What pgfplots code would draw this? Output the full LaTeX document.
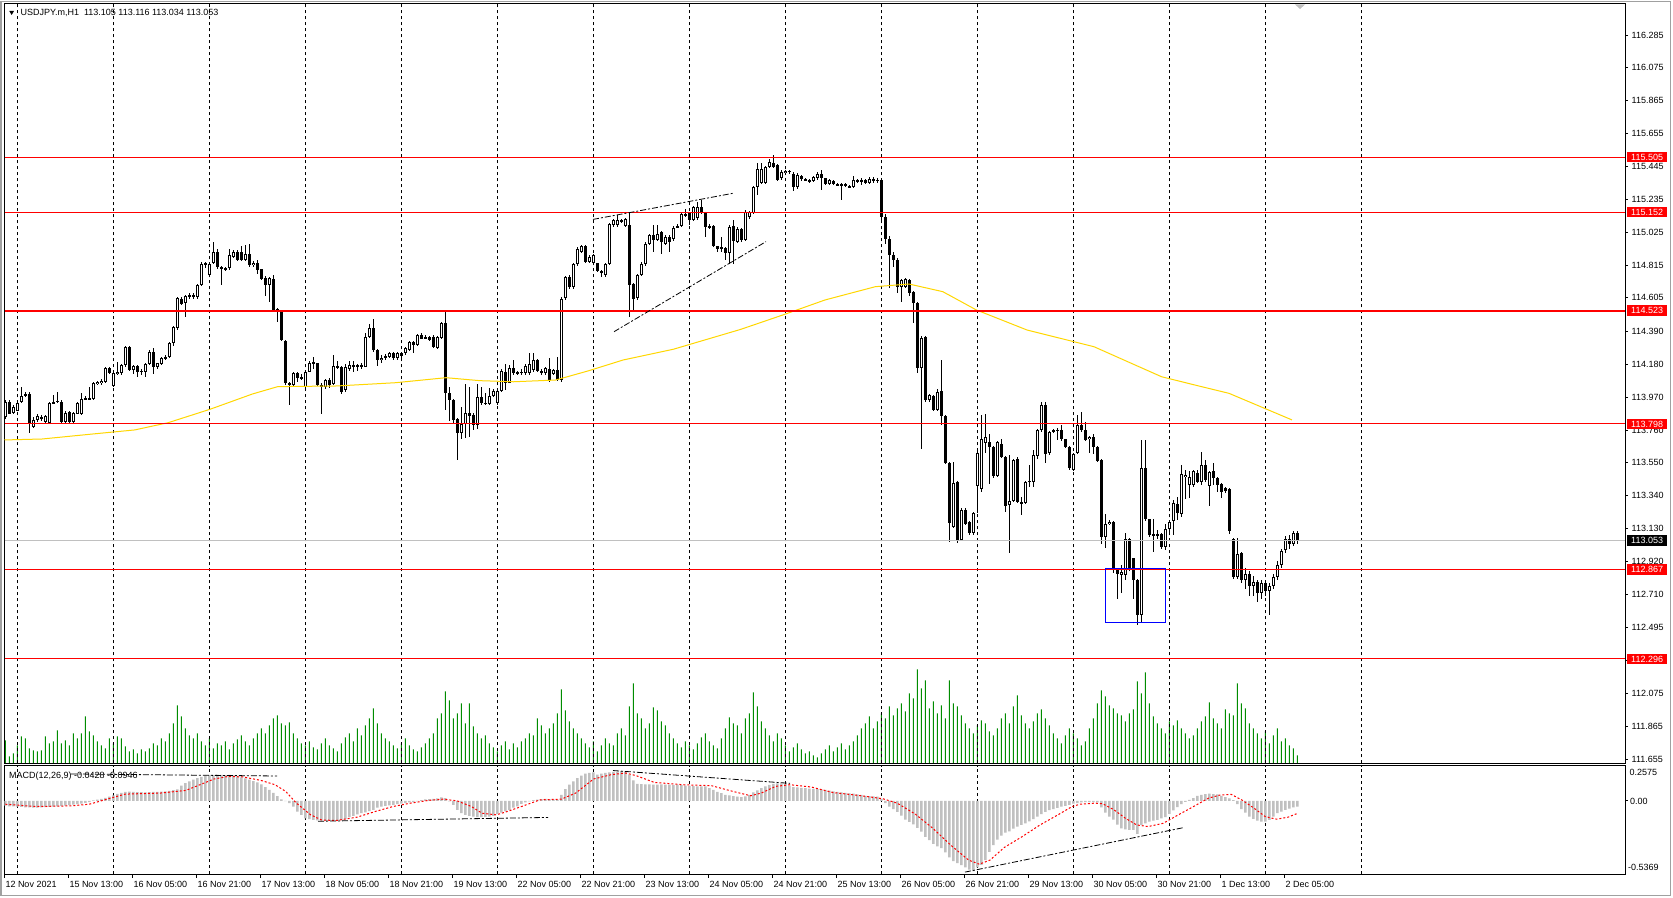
\documentclass[border=0pt]{standalone}
\usepackage{fontspec}
\setmainfont{Liberation Sans}
\usepackage{pgfplots}
\usepackage{pgfplotstable}
\pgfplotsset{compat=1.18}
\definecolor{mtred}{RGB}{255,0,0}
\definecolor{mtgold}{RGB}{255,215,0}
\definecolor{mtgreen}{RGB}{0,140,0}
\definecolor{mtsilver}{RGB}{192,192,192}
\definecolor{winframe}{RGB}{160,160,160}
\newcommand\mtf{\fontsize{9}{10}\selectfont}

% hourly bars: open close high low volume(px) macd
\pgfplotstableread{
o c h l v m
113.845 113.941 113.950 113.830 23 -0.035
113.940 113.866 113.950 113.860 7 -0.040
113.866 113.909 113.920 113.860 10 -0.040
113.883 113.934 113.940 113.880 18 -0.042
113.941 113.977 114.037 113.930 27 -0.045
113.985 113.990 114.000 113.970 25 -0.048
113.990 113.798 114.000 113.738 15 -0.049
113.781 113.828 113.840 113.770 13 -0.050
113.824 113.849 113.860 113.810 12 -0.050
113.845 113.830 113.855 113.820 13 -0.049
113.813 113.849 113.855 113.800 27 -0.046
113.807 113.934 113.940 113.800 20 -0.044
113.930 113.941 113.983 113.925 22 -0.042
113.940 113.945 114.000 113.930 33 -0.040
113.941 113.813 113.950 113.800 20 -0.038
113.813 113.870 113.880 113.800 23 -0.035
113.877 113.813 113.880 113.800 18 -0.032
113.813 113.870 113.875 113.800 30 -0.028
113.866 113.934 113.940 113.860 25 -0.024
113.860 113.962 113.998 113.855 30 -0.020
113.962 113.958 113.980 113.950 47 -0.015
113.958 113.960 114.037 113.950 32 -0.010
113.958 114.058 114.065 113.950 28 0.003
114.054 114.069 114.075 114.045 22 0.008
114.060 114.075 114.085 114.050 18 0.015
114.069 114.154 114.165 114.060 15 0.022
114.154 114.122 114.160 114.115 25 0.030
114.043 114.122 114.130 114.035 20 0.040
114.120 114.133 114.196 114.110 27 0.050
114.122 114.175 114.180 114.115 25 0.058
114.173 114.288 114.295 114.165 17 0.065
114.288 114.143 114.295 114.135 12 0.068
114.143 114.169 114.175 114.120 14 0.066
114.169 114.133 114.175 114.100 10 0.064
114.133 114.139 114.150 114.110 14 0.063
114.133 114.182 114.190 114.100 12 0.062
114.182 114.260 114.270 114.175 15 0.063
114.260 114.165 114.282 114.120 20 0.065
114.165 114.186 114.190 114.150 18 0.066
114.182 114.222 114.230 114.175 25 0.068
114.218 114.228 114.240 114.210 22 0.070
114.226 114.314 114.320 114.220 30 0.072
114.314 114.420 114.425 114.300 40 0.078
114.410 114.601 114.610 114.400 58 0.083
114.601 114.569 114.610 114.560 47 0.112
114.569 114.616 114.625 114.484 35 0.130
114.612 114.623 114.635 114.600 28 0.143
114.623 114.612 114.635 114.600 25 0.155
114.612 114.687 114.695 114.600 30 0.167
114.687 114.825 114.835 114.680 22 0.176
114.825 114.814 114.835 114.800 18 0.184
114.751 114.825 114.830 114.745 25 0.188
114.825 114.896 114.964 114.820 15 0.189
114.896 114.804 114.920 114.790 20 0.192
114.804 114.793 114.810 114.687 18 0.190
114.793 114.787 114.800 114.780 22 0.188
114.793 114.878 114.920 114.785 14 0.190
114.868 114.900 114.910 114.860 20 0.186
114.900 114.846 114.910 114.840 24 0.180
114.900 114.850 114.935 114.840 28 0.172
114.850 114.885 114.942 114.840 22 0.165
114.885 114.814 114.950 114.800 18 0.155
114.814 114.829 114.840 114.800 25 0.145
114.829 114.782 114.850 114.760 30 0.135
114.787 114.729 114.790 114.720 35 0.120
114.729 114.687 114.745 114.620 30 0.100
114.687 114.729 114.740 114.580 38 0.080
114.723 114.531 114.750 114.520 45 0.058
114.531 114.516 114.540 114.450 48 0.035
114.523 114.335 114.530 114.330 40 0.010
114.330 114.058 114.335 114.050 38 -0.002
114.058 114.047 114.065 113.919 41 -0.017
114.047 114.122 114.130 114.040 30 -0.042
114.122 114.090 114.130 114.070 25 -0.079
114.090 114.100 114.120 114.080 20 -0.103
114.037 114.133 114.140 114.020 18 -0.128
114.133 114.186 114.200 114.130 22 -0.135
114.186 114.190 114.228 114.150 16 -0.140
114.186 114.047 114.190 114.040 14 -0.144
114.047 114.037 114.060 113.866 20 -0.146
114.037 114.079 114.085 114.020 25 -0.147
114.080 114.047 114.090 114.030 18 -0.147
114.054 114.169 114.240 114.050 15 -0.146
114.169 114.162 114.200 114.150 12 -0.145
114.165 114.005 114.170 113.990 20 -0.142
114.015 114.165 114.180 114.000 26 -0.135
114.154 114.175 114.200 114.140 30 -0.120
114.175 114.162 114.200 114.130 22 -0.111
114.165 114.175 114.180 114.140 35 -0.100
114.170 114.169 114.190 114.150 28 -0.091
114.165 114.356 114.380 114.160 38 -0.085
114.356 114.410 114.437 114.350 45 -0.075
114.410 114.271 114.473 114.260 55 -0.066
114.271 114.207 114.280 114.170 40 -0.050
114.207 114.220 114.240 114.190 30 -0.042
114.220 114.232 114.245 114.210 25 -0.037
114.228 114.254 114.260 114.220 22 -0.033
114.250 114.218 114.260 114.210 18 -0.030
114.218 114.250 114.260 114.210 15 -0.025
114.250 114.230 114.260 114.220 20 -0.020
114.250 114.282 114.290 114.240 25 -0.015
114.271 114.324 114.330 114.265 18 -0.012
114.324 114.303 114.330 114.250 14 -0.010
114.303 114.367 114.375 114.300 12 -0.005
114.367 114.346 114.380 114.340 16 0.005
114.346 114.356 114.370 114.340 20 0.010
114.356 114.335 114.360 114.330 25 0.012
114.356 114.292 114.365 114.285 30 0.015
114.285 114.356 114.360 114.280 45 0.018
114.352 114.446 114.450 114.340 50 0.025
114.446 113.998 114.523 113.888 72 0.020
113.998 113.951 114.037 113.820 63 -0.005
113.951 113.824 113.960 113.800 45 -0.030
113.828 113.743 113.835 113.568 50 -0.066
113.743 113.798 113.909 113.706 60 -0.091
113.798 113.870 114.054 113.710 40 -0.103
113.866 113.849 114.037 113.717 60 -0.110
113.856 113.792 113.870 113.760 37 -0.116
113.792 113.973 114.054 113.770 30 -0.120
113.973 113.930 114.037 113.920 25 -0.120
113.930 113.934 113.994 113.920 28 -0.118
113.926 113.977 114.026 113.920 20 -0.116
113.977 114.011 114.020 113.970 16 -0.110
113.930 114.011 114.020 113.920 12 -0.096
114.011 114.139 114.150 114.000 18 -0.086
114.133 114.062 114.186 114.015 22 -0.075
114.062 114.154 114.175 114.058 14 -0.066
114.154 114.122 114.207 114.110 20 -0.050
114.122 114.126 114.140 114.110 16 -0.040
114.126 114.133 114.150 114.115 22 -0.022
114.122 114.169 114.180 114.115 25 -0.012
114.122 114.182 114.250 114.110 30 -0.005
114.143 114.207 114.254 114.130 28 0.005
114.207 114.139 114.215 114.130 45 0.008
114.139 114.126 114.150 114.115 38 0.012
114.122 114.154 114.165 114.115 30 0.015
114.147 114.079 114.224 114.070 35 0.012
114.122 114.143 114.150 114.110 40 0.010
114.143 114.079 114.228 114.075 50 0.008
114.079 114.601 114.610 114.070 74 0.044
114.601 114.736 114.745 114.590 53 0.086
114.736 114.672 114.750 114.660 42 0.118
114.672 114.821 114.830 114.665 35 0.142
114.821 114.921 114.930 114.810 30 0.167
114.900 114.936 114.945 114.890 25 0.184
114.936 114.836 114.945 114.830 20 0.199
114.836 114.868 114.880 114.830 16 0.204
114.829 114.878 114.885 114.820 22 0.209
114.825 114.778 114.830 114.770 12 0.192
114.778 114.765 114.785 114.736 18 0.199
114.751 114.821 114.830 114.740 25 0.204
114.821 115.077 115.085 114.815 20 0.209
115.070 115.102 115.110 115.060 18 0.212
115.070 115.102 115.134 115.060 30 0.214
115.102 115.092 115.110 115.085 35 0.217
115.064 115.106 115.115 115.060 28 0.214
115.070 114.687 115.151 114.484 57 0.192
114.697 114.601 114.700 114.523 80 0.150
114.601 114.751 114.760 114.590 50 0.125
114.751 114.821 114.836 114.745 45 0.122
114.821 114.953 114.960 114.810 35 0.120
114.953 115.006 115.015 114.945 40 0.120
115.006 114.974 115.070 114.900 56 0.118
114.974 115.013 115.070 114.970 53 0.118
115.028 114.964 115.035 114.889 42 0.120
114.953 114.996 115.005 114.945 38 0.118
114.996 114.964 115.005 114.900 30 0.118
114.979 115.055 115.065 114.970 25 0.116
115.055 115.064 115.075 115.050 20 0.118
115.064 115.145 115.155 115.060 16 0.115
115.145 115.128 115.177 115.120 22 0.112
115.149 115.106 115.155 115.070 18 0.110
115.102 115.187 115.195 115.095 14 0.108
115.113 115.187 115.219 115.105 20 0.106
115.187 115.149 115.234 115.140 26 0.105
115.149 115.055 115.155 114.991 30 0.106
115.055 115.064 115.075 115.045 22 0.093
115.064 114.936 115.070 114.930 18 0.081
114.936 114.915 114.940 114.900 15 0.066
114.921 114.932 114.996 114.900 25 0.056
114.921 114.889 114.930 114.846 35 0.044
114.889 115.055 115.070 114.821 46 0.040
115.064 114.970 115.106 114.825 40 0.035
114.964 115.049 115.060 114.955 38 0.030
115.049 114.974 115.055 114.965 30 0.027
114.974 115.155 115.165 114.965 45 0.032
115.119 115.155 115.160 115.110 50 0.044
115.145 115.315 115.320 115.140 71 0.061
115.315 115.432 115.469 115.262 57 0.076
115.337 115.432 115.469 115.330 42 0.093
115.337 115.443 115.450 115.330 35 0.106
115.443 115.475 115.490 115.435 28 0.116
115.469 115.443 115.518 115.435 22 0.125
115.454 115.362 115.460 115.355 30 0.128
115.369 115.411 115.420 115.360 25 0.127
115.405 115.418 115.425 115.400 18 0.125
115.418 115.411 115.425 115.400 12 0.111
115.400 115.315 115.410 115.290 16 0.100
115.315 115.390 115.400 115.298 20 0.098
115.383 115.362 115.390 115.355 14 0.095
115.362 115.358 115.370 115.350 10 0.093
115.358 115.347 115.365 115.340 12 0.090
115.354 115.379 115.385 115.345 8 0.088
115.369 115.400 115.410 115.360 6 0.085
115.396 115.369 115.426 115.298 10 0.083
115.369 115.332 115.375 115.325 14 0.081
115.332 115.358 115.365 115.325 18 0.075
115.354 115.332 115.360 115.325 12 0.070
115.332 115.326 115.340 115.320 16 0.066
115.332 115.320 115.340 115.230 20 0.062
115.320 115.332 115.340 115.315 14 0.058
115.320 115.311 115.325 115.305 18 0.055
115.311 115.358 115.383 115.305 22 0.052
115.358 115.347 115.365 115.340 28 0.048
115.347 115.358 115.370 115.330 35 0.044
115.358 115.340 115.365 115.330 40 0.037
115.340 115.365 115.375 115.335 47 0.035
115.365 115.350 115.380 115.340 35 0.032
115.350 115.360 115.370 115.340 42 0.030
115.360 115.120 115.370 115.100 50 0.015
115.120 114.980 115.140 114.950 45 -0.017
114.980 114.880 115.000 114.665 57 -0.042
114.880 114.846 114.900 114.800 48 -0.061
114.846 114.676 114.860 114.633 55 -0.081
114.676 114.719 114.725 114.580 60 -0.108
114.676 114.723 114.730 114.670 52 -0.138
114.719 114.633 114.725 114.620 70 -0.155
114.644 114.569 114.650 114.442 65 -0.172
114.574 114.154 114.580 114.122 94 -0.199
114.154 114.352 114.360 113.642 75 -0.226
114.352 113.951 114.360 113.940 83 -0.265
113.951 113.983 113.990 113.940 55 -0.288
113.977 113.888 113.985 113.880 62 -0.315
113.888 114.005 114.020 113.880 50 -0.334
114.009 113.849 114.207 113.792 58 -0.347
113.849 113.551 113.855 113.545 45 -0.379
113.551 113.163 113.557 113.046 83 -0.415
113.142 113.423 113.557 113.135 60 -0.442
113.429 113.057 113.435 113.039 57 -0.457
113.057 113.252 113.260 113.050 48 -0.472
113.252 113.163 113.260 113.155 40 -0.489
113.174 113.099 113.180 113.090 35 -0.505
113.099 113.227 113.235 113.090 30 -0.515
113.402 113.611 113.642 113.227 38 -0.489
113.387 113.706 113.855 113.365 43 -0.470
113.679 113.713 113.866 113.611 40 -0.435
113.685 113.653 113.738 113.419 32 -0.374
113.653 113.466 113.660 113.455 28 -0.325
113.466 113.685 113.690 113.460 35 -0.285
113.674 113.589 113.700 113.580 45 -0.256
113.589 113.274 113.595 113.238 50 -0.234
113.280 113.308 113.600 112.975 40 -0.224
113.308 113.568 113.575 113.300 57 -0.204
113.578 113.301 113.585 113.295 68 -0.189
113.301 113.291 113.330 113.216 48 -0.177
113.291 113.429 113.435 113.285 40 -0.165
113.429 113.436 113.536 113.397 35 -0.150
113.429 113.600 113.632 113.397 42 -0.135
113.593 113.760 113.770 113.578 50 -0.116
113.760 113.919 113.941 113.750 54 -0.098
113.919 113.610 113.941 113.547 45 -0.081
113.610 113.749 113.755 113.600 38 -0.069
113.749 113.760 113.770 113.740 30 -0.061
113.760 113.758 113.770 113.696 25 -0.052
113.760 113.700 113.792 113.690 20 -0.042
113.700 113.653 113.705 113.645 28 -0.037
113.653 113.515 113.660 113.505 35 -0.030
113.504 113.610 113.615 113.500 30 -0.020
113.610 113.792 113.856 113.605 25 -0.017
113.792 113.760 113.877 113.750 18 -0.012
113.760 113.696 113.813 113.690 22 -0.010
113.700 113.717 113.725 113.615 35 -0.010
113.713 113.653 113.738 113.610 45 -0.010
113.653 113.564 113.660 113.555 60 -0.012
113.568 113.073 113.575 113.031 73 -0.049
113.078 113.159 113.223 113.003 67 -0.086
113.159 113.174 113.184 113.150 58 -0.116
113.174 112.875 113.180 112.843 55 -0.138
112.875 112.839 112.880 112.677 50 -0.175
112.833 112.854 112.897 112.716 48 -0.202
112.833 113.061 113.103 112.801 42 -0.209
113.061 112.865 113.070 112.860 50 -0.214
112.939 112.801 112.945 112.677 54 -0.214
112.801 112.580 112.810 112.515 82 -0.243
112.580 113.515 113.696 112.530 70 -0.177
113.515 113.189 113.696 113.180 91 -0.165
113.189 113.088 113.195 113.080 60 -0.152
113.095 113.088 113.189 112.982 47 -0.145
113.088 113.095 113.120 113.067 40 -0.140
113.095 113.010 113.100 113.000 35 -0.128
113.014 113.125 113.159 112.993 30 -0.120
113.125 113.174 113.184 113.088 42 -0.096
113.180 113.291 113.312 113.088 38 -0.071
113.287 113.227 113.333 113.184 43 -0.047
113.227 113.478 113.536 113.206 35 -0.025
113.457 113.472 113.504 113.323 30 -0.007
113.408 113.457 113.500 113.323 25 0.007
113.408 113.500 113.504 113.400 28 0.020
113.483 113.429 113.508 113.420 35 0.037
113.429 113.536 113.620 113.408 42 0.044
113.536 113.440 113.568 113.430 47 0.049
113.402 113.493 113.500 113.274 61 0.052
113.500 113.451 113.547 113.408 45 0.049
113.451 113.408 113.460 113.365 40 0.047
113.414 113.365 113.420 113.323 35 0.037
113.387 113.372 113.395 113.360 54 0.027
113.380 113.116 113.390 113.099 50 0.017
113.061 112.818 113.070 112.810 48 0.005
112.822 112.971 113.067 112.810 80 -0.025
112.971 112.800 112.980 112.780 60 -0.061
112.800 112.840 112.880 112.740 55 -0.086
112.840 112.760 112.860 112.700 40 -0.116
112.760 112.790 112.830 112.700 35 -0.133
112.790 112.720 112.800 112.660 30 -0.145
112.720 112.780 112.800 112.680 25 -0.152
112.780 112.730 112.790 112.700 32 -0.152
112.730 112.760 112.780 112.580 20 -0.140
112.760 112.820 112.840 112.740 28 -0.116
112.820 112.900 112.920 112.800 35 -0.091
112.900 112.990 113.000 112.880 22 -0.079
112.990 113.060 113.080 112.970 25 -0.066
113.060 113.030 113.090 113.000 18 -0.057
113.030 113.105 113.116 113.020 15 -0.049
113.105 113.053 113.116 113.034 8 -0.042
}\bars

\pgfplotsset{
  mtgrid/.style={
    xtick={17.3,113.3,209.3,305.3,401.3,497.3,593.3,689.3,785.3,881.3,977.3,1073.3,1169.3,1265.3,1361.3},
    xticklabels={}, xtick style={draw=none}, xmajorgrids,
    grid style={black, line width=0.8pt, dash pattern=on 3pt off 3pt}},
  mtframe/.style={scale only axis, anchor=south west, width=1620.5pt,
    xmin=4.5, xmax=1625, axis line style={black, line width=1pt},
    ytick pos=right, yticklabels={}, tick align=outside, major tick length=3pt,
    ytick style={black, line width=0.8pt}},
}
\tikzset{
  lvl/.style={anchor=west, fill=mtred, text=white, font=\mtf, inner xsep=4pt,
    inner ysep=2pt, text height=6.4pt, text depth=0pt},
  trend/.style={black, line width=0.8pt, dash pattern=on 6pt off 2pt on 2pt off 2pt},
}

\begin{document}
\begin{tikzpicture}
\path[use as bounding box] (0,0) rectangle (1673pt,897pt);
\fill[white] (0,0) rectangle (1673pt,897pt);
\draw[winframe, line width=1pt] (0.5pt,2pt) rectangle (1670.5pt,895.5pt);
\draw[winframe, line width=2pt] (1pt,2pt) -- (1pt,895.5pt);

% volumes
\begin{axis}[scale only axis, anchor=south west, at={(4.5pt,133.7pt)},
  width=1620.5pt, height=759.3pt, xmin=4.5, xmax=1625, ymin=0, ymax=759.3, hide axis]
\addplot[ybar, bar width=1pt, fill=mtgreen, draw=none]
  table[x expr=5.3+4*\coordindex, y=v] {\bars};
\end{axis}

% price panel
\begin{axis}[mtframe, mtgrid, at={(4.5pt,133.7pt)}, height=759.3pt,
  ymin=111.6286, ymax=116.4834, clip=false,
  ytick={116.285,116.075,115.865,115.655,115.445,115.235,115.025,114.815,114.605,114.390,114.180,113.970,113.760,113.550,113.340,113.130,112.920,112.710,112.495,112.285,112.075,111.865,111.655}]
% wicks
\addplot[draw=none, forget plot, error bars/.cd, y dir=both, y explicit, error mark=none,
  error bar style={draw=black, line width=1pt}]
  table[x expr={5.3+4*\coordindex}, y expr={(\thisrow{h}+\thisrow{l})/2},
        y error expr={(\thisrow{h}-\thisrow{l})/2}] {\bars};
% bodies
\addplot[draw=none, forget plot, error bars/.cd, y dir=both, y explicit, error mark=none,
  error bar style={draw=black, line width=3.2pt}]
  table[x expr={5.3+4*\coordindex}, y expr={(\thisrow{o}+\thisrow{c})/2},
        y error expr={max(abs(\thisrow{c}-\thisrow{o})/2,0.0035)}] {\bars};
% white inside of rising candles
\addplot[draw=none, forget plot, error bars/.cd, y dir=both, y explicit, error mark=none,
  error bar style={draw=white, line width=1.2pt}]
  table[x expr={5.3+4*\coordindex}, y expr={(\thisrow{o}+\thisrow{c})/2},
        y error expr={max((\thisrow{c}-\thisrow{o})/2-0.0064,0)}] {\bars};
% moving average
\addplot[mtgold, line width=1pt] coordinates {
  (4.5,113.696) (42,113.702) (92.6,113.734) (134.7,113.760) (168,113.806) (210,113.892)
  (252.5,113.990) (277.8,114.037) (336.7,114.041) (395.6,114.062) (446,114.094)
  (480,114.075) (513.5,114.068) (555.6,114.079) (589,114.139) (623,114.207)
  (673.4,114.276) (740.7,114.403) (782.8,114.495) (825,114.591) (875.4,114.676)
  (909,114.693) (942.8,114.644) (976.4,114.527) (1027,114.399) (1094,114.292)
  (1161.6,114.100) (1195,114.047) (1229,113.994) (1292,113.824)};
% levels
\addplot[mtsilver, line width=1pt] coordinates {(4.5,113.053) (1625,113.053)};
\addplot[mtred, line width=1pt] coordinates {(4.5,115.505) (1625,115.505)};
\addplot[mtred, line width=1pt] coordinates {(4.5,115.152) (1625,115.152)};
\addplot[mtred, line width=2pt] coordinates {(4.5,114.523) (1625,114.523)};
\addplot[mtred, line width=1pt] coordinates {(4.5,113.798) (1625,113.798)};
\addplot[mtred, line width=1pt] coordinates {(4.5,112.867) (1625,112.867)};
\addplot[mtred, line width=1pt] coordinates {(4.5,112.296) (1625,112.296)};
% channel
\addplot[trend] coordinates {(593,115.106) (733,115.273)};
\addplot[trend] coordinates {(614,114.388) (766,114.964)};
% box
\addplot[blue, line width=1pt] coordinates {(1105.3,112.875) (1165.3,112.875)
  (1165.3,112.529) (1105.3,112.529) (1105.3,112.875)};
% price scale
\pgfplotsinvokeforeach{116.285,116.075,115.865,115.655,115.445,115.235,115.025,114.815,114.605,114.390,114.180,113.970,113.760,113.550,113.340,113.130,112.920,112.710,112.495,112.285,112.075,111.865,111.655}{
  \node[anchor=west, inner sep=0pt, font=\mtf] at (axis cs:1631.5,#1) {#1};}
\pgfplotsinvokeforeach{115.505,115.152,114.523,113.798,112.867,112.296}{
  \node[lvl] at (axis cs:1627,#1) {#1};}
\node[lvl, fill=black] at (axis cs:1627,113.053) {113.053};
\end{axis}

% MACD panel
\begin{axis}[mtframe, mtgrid, at={(4.5pt,23pt)}, height=108.3pt,
  ymin=-0.5369, ymax=0.2575, ytick={0}]
\addplot[ybar, bar width=2.6pt, fill=mtsilver, draw=none]
  table[x expr={5.3+4*\coordindex}, y=m] {\bars};
\addplot[mtred, line width=1pt, dash pattern=on 2pt off 2pt] coordinates {
  (5.4,-0.025) (35.7,-0.042) (71.4,-0.037) (89.3,-0.025) (107,0.012) (125,0.049)
  (160.7,0.057) (185.7,0.076) (200,0.118) (214,0.160) (228.6,0.179) (242.9,0.175)
  (260.7,0.150) (275,0.118) (285.7,0.069) (296.4,-0.017) (310.7,-0.103) (321.4,-0.140)
  (335.7,-0.145) (357,-0.120) (375,-0.079) (392.9,-0.042) (410.7,-0.017) (428.6,0.003)
  (442.9,0.012) (457,0.000) (471.4,-0.042) (482,-0.091) (496.4,-0.103) (507,-0.079)
  (521.4,-0.042) (540,0.007) (561.4,0.012) (575.7,0.057) (593.6,0.160) (611.4,0.192)
  (625.7,0.204) (636.4,0.184) (654.3,0.135) (682.9,0.118) (711.4,0.111) (732.9,0.069)
  (750.7,0.037) (761.4,0.057) (775.7,0.106) (790,0.118) (811.4,0.101) (832.9,0.061)
  (861.4,0.037) (882.9,0.015) (897.1,-0.017) (915,-0.096) (932.9,-0.202) (950.7,-0.325)
  (968.6,-0.435) (979.3,-0.465) (990,-0.435) (1004.3,-0.342) (1022.1,-0.263) (1040,-0.177)
  (1057.9,-0.103) (1072.1,-0.042) (1080,-0.025) (1095.1,-0.017) (1102.7,-0.022)
  (1114,-0.066) (1125.4,-0.128) (1136.7,-0.177) (1148.1,-0.189) (1163.2,-0.165)
  (1178.3,-0.103) (1193.5,-0.042) (1208.6,0.020) (1219.9,0.042) (1231.3,0.047)
  (1242.6,0.003) (1254,-0.054) (1265.3,-0.116) (1276.7,-0.135) (1288,-0.120) (1297.9,-0.091)};
\addplot[trend] coordinates {(71,0.197) (277,0.182)};
\addplot[trend] coordinates {(318,-0.150) (548,-0.122)};
\addplot[trend] coordinates {(613,0.222) (790,0.128)};
\addplot[trend] coordinates {(965,-0.523) (1184,-0.196)};
\end{axis}

% texts
\fill (9.3pt,886pt) -- (14pt,886pt) -- (11.65pt,882pt) -- cycle;
\node[anchor=base west, inner sep=0pt, font=\mtf] at (20.5pt,881pt)
  {USDJPY.m,H1\hspace{5pt}113.105 113.116 113.034 113.053};
\node[anchor=base west, inner sep=0pt, font=\mtf] at (9pt,118.2pt)
  {MACD(12,26,9) -0.0428 -0.0946};
\node[anchor=west, inner sep=0pt, font=\mtf] at (1629.3pt,124.3pt) {0.2575};
\node[anchor=west, inner sep=0pt, font=\mtf] at (1630pt,96pt) {0.00};
\node[anchor=west, inner sep=0pt, font=\mtf] at (1628pt,29.7pt) {-0.5369};
\fill[mtsilver] (1295pt,892.5pt) -- (1305pt,892.5pt) -- (1300pt,888pt) -- cycle;
\foreach \k/\t in {0/12 Nov 2021, 1/15 Nov 13:00, 2/16 Nov 05:00, 3/16 Nov 21:00,
  4/17 Nov 13:00, 5/18 Nov 05:00, 6/18 Nov 21:00, 7/19 Nov 13:00, 8/22 Nov 05:00,
  9/22 Nov 21:00, 10/23 Nov 13:00, 11/24 Nov 05:00, 12/24 Nov 21:00, 13/25 Nov 13:00,
  14/26 Nov 05:00, 15/26 Nov 21:00, 16/29 Nov 13:00, 17/30 Nov 05:00, 18/30 Nov 21:00,
  19/1 Dec 13:00, 20/2 Dec 05:00} {
  \draw[line width=0.8pt] ({4.8pt+64pt*\k},23pt) -- ({4.8pt+64pt*\k},19pt);
  \node[anchor=base west, inner sep=0pt, font=\mtf] at ({5.3pt+64pt*\k},9.5pt) {\t};
}
\end{tikzpicture}
\end{document}
